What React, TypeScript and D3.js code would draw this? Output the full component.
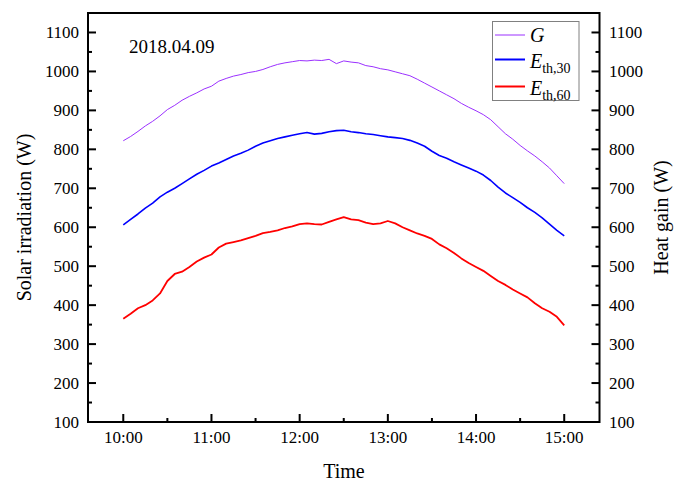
import React from "react";
import * as d3 from "d3";

// minutes after 10:00
const minutes = [
  0, 5, 10, 15, 20, 25, 30, 35, 40, 45, 50, 55, 60, 65, 70, 75, 80, 85, 90, 95,
  100, 105, 110, 115, 120, 125, 130, 135, 140, 145, 150, 155, 160, 165, 170, 175, 180, 185, 190, 195,
  200, 205, 210, 215, 220, 225, 230, 235, 240, 245, 250, 255, 260, 265, 270, 275, 280, 285, 290, 295, 300,
];

const G = [
  822, 833, 846, 860, 872, 886, 902, 913, 926, 936, 945, 955, 962, 975, 982, 988, 992, 997, 1000, 1005,
  1012, 1018, 1022, 1025, 1028, 1027, 1029, 1028, 1031, 1020, 1027, 1024, 1022, 1015, 1012, 1007, 1004, 999, 994, 989,
  980, 970, 960, 950, 940, 930, 918, 908, 899, 889, 876, 858, 840, 826, 810, 796, 783, 768, 752, 732, 712,
];

const E30 = [
  606, 620, 634, 649, 662, 678, 690, 700, 712, 724, 736, 746, 757, 765, 774, 783, 790, 798, 808, 816,
  822, 828, 832, 836, 840, 843, 839, 841, 845, 848, 849, 845, 843, 840, 838, 835, 832, 830, 828, 823,
  816, 808, 795, 784, 777, 768, 760, 752, 744, 734, 720, 703, 688, 676, 664, 650, 638, 624, 608, 592, 578,
];

const E60 = [
  365, 378, 392, 400, 412, 430, 462, 480, 486, 498, 512, 522, 530, 548, 558, 562, 566, 572, 578, 585,
  588, 592, 598, 602, 608, 610, 608, 607, 614, 620, 626, 620, 618, 612, 608, 610, 616, 610, 600, 592,
  584, 578, 570, 556, 546, 534, 520, 508, 498, 488, 475, 462, 452, 440, 430, 420, 405, 392, 383, 370, 348,
];

const xTickHours = [10, 11, 12, 13, 14, 15];
const xTickLabels = ["10:00", "11:00", "12:00", "13:00", "14:00", "15:00"];
const xMinorHours = [10.5, 11.5, 12.5, 13.5, 14.5];
const yTicks = [100, 200, 300, 400, 500, 600, 700, 800, 900, 1000, 1100];
const yMinor = [150, 250, 350, 450, 550, 650, 750, 850, 950, 1050];

const W = 677;
const H = 483;
const L = 88;
const R = 599.5;
const T = 13;
const B = 422;
const FONT = "'Liberation Serif', 'Times New Roman', serif";

export default function App() {
  const x = d3.scaleLinear().domain([9.6, 15.4]).range([L, R]);
  const y = d3.scaleLinear().domain([100, 1150]).range([B, T]);

  const mk = (vals: number[]) =>
    d3
      .line<number>()
      .x((_, i) => x(10 + minutes[i] / 60))
      .y((v) => y(v))(vals) as string;

  const series = [
    { vals: G, color: "#9b30ff", w: 1 },
    { vals: E30, color: "#0000ff", w: 1.6 },
    { vals: E60, color: "#ff0000", w: 1.8 },
  ];

  return (
    <svg
      width={W}
      height={H}
      style={{ position: "absolute", left: 0, top: 0, background: "#fff" }}
      fontFamily={FONT}
    >
      <rect x={0} y={0} width={W} height={H} fill="#fff" />
      {series.map((s, i) => (
        <path key={i} d={mk(s.vals)} fill="none" stroke={s.color} strokeWidth={s.w} strokeLinejoin="round" />
      ))}

      {/* frame */}
      <rect x={L} y={T} width={R - L} height={B - T} fill="none" stroke="#000" strokeWidth={2} />

      {/* x ticks */}
      {xTickHours.map((h, i) => (
        <g key={"xt" + i}>
          <line x1={x(h)} x2={x(h)} y1={B} y2={B - 8} stroke="#000" strokeWidth={2} />
          <text x={x(h)} y={443} fontSize={17} textAnchor="middle" fill="#000">
            {xTickLabels[i]}
          </text>
        </g>
      ))}
      {xMinorHours.map((h, i) => (
        <line key={"xm" + i} x1={x(h)} x2={x(h)} y1={B} y2={B - 4} stroke="#000" strokeWidth={2} />
      ))}

      {/* y ticks both sides */}
      {yTicks.map((v, i) => (
        <g key={"yt" + i}>
          <line x1={L} x2={L + 8} y1={y(v)} y2={y(v)} stroke="#000" strokeWidth={2} />
          <line x1={R} x2={R - 8} y1={y(v)} y2={y(v)} stroke="#000" strokeWidth={2} />
          <text x={79} y={y(v) + 5.5} fontSize={17} textAnchor="end" fill="#000">
            {v}
          </text>
          <text x={609} y={y(v) + 5.5} fontSize={17} textAnchor="start" fill="#000">
            {v}
          </text>
        </g>
      ))}
      {yMinor.map((v, i) => (
        <g key={"ym" + i}>
          <line x1={L} x2={L + 4} y1={y(v)} y2={y(v)} stroke="#000" strokeWidth={2} />
          <line x1={R} x2={R - 4} y1={y(v)} y2={y(v)} stroke="#000" strokeWidth={2} />
        </g>
      ))}

      {/* axis titles */}
      <text x={344} y={478} fontSize={20} textAnchor="middle" fill="#000">
        Time
      </text>
      <text
        transform={`translate(31,${(T + B) / 2}) rotate(-90)`}
        fontSize={20}
        textAnchor="middle"
        fill="#000"
      >
        Solar irradiation (W)
      </text>
      <text
        transform={`translate(668,${(T + B) / 2}) rotate(-90)`}
        fontSize={20}
        textAnchor="middle"
        fill="#000"
      >
        Heat gain (W)
      </text>

      {/* date label */}
      <text x={129} y={53} fontSize={19} fill="#000">
        2018.04.09
      </text>

      {/* legend */}
      <rect x={492.5} y={21.5} width={86.5} height={79} fill="#fff" stroke="#808080" strokeWidth={1} />
      <line x1={495} x2={525} y1={35} y2={35} stroke="#9b30ff" strokeWidth={1} />
      <line x1={495} x2={525} y1={59.5} y2={59.5} stroke="#0000ff" strokeWidth={2} />
      <line x1={495} x2={525} y1={86.5} y2={86.5} stroke="#ff0000" strokeWidth={2} />
      <text x={530} y={42} fontSize={20} fill="#000" fontStyle="italic">
        G
      </text>
      <text x={530} y={68} fontSize={20} fill="#000">
        <tspan fontStyle="italic">E</tspan>
        <tspan fontSize={14} dy={5}>th,30</tspan>
      </text>
      <text x={530} y={95} fontSize={20} fill="#000">
        <tspan fontStyle="italic">E</tspan>
        <tspan fontSize={14} dy={5}>th,60</tspan>
      </text>
    </svg>
  );
}
